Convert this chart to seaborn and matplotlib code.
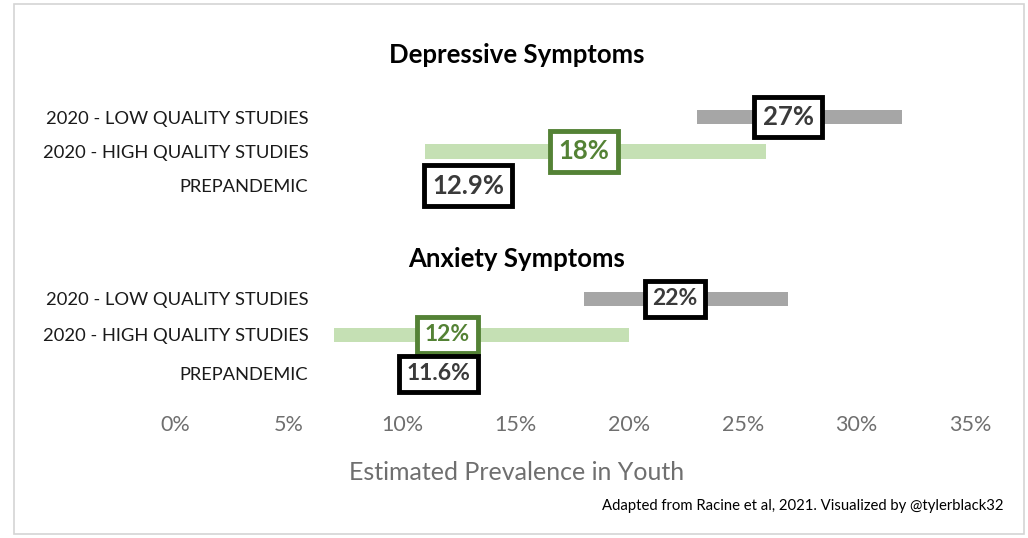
import matplotlib
matplotlib.use("Agg")
import matplotlib.pyplot as plt
import matplotlib.transforms as mtransforms
from matplotlib.patches import Rectangle
import seaborn as sns
import pandas as pd

# data (percent)
groups = ["Depressive Symptoms", "Depressive Symptoms", "Depressive Symptoms",
          "Anxiety Symptoms", "Anxiety Symptoms", "Anxiety Symptoms"]
categories = ["2020 - LOW QUALITY STUDIES", "2020 - HIGH QUALITY STUDIES", "PREPANDEMIC",
              "2020 - LOW QUALITY STUDIES", "2020 - HIGH QUALITY STUDIES", "PREPANDEMIC"]
ci_low = [23, 11, None, 18, 7, None]
ci_high = [32, 26, None, 27, 20, None]
estimate = [27, 18, 12.9, 22, 12, 11.6]
estimate_labels = ["27%", "18%", "12.9%", "22%", "12%", "11.6%"]
x_ticks = [0, 5, 10, 15, 20, 25, 30, 35]
x_tick_labels = ["0%", "5%", "10%", "15%", "20%", "25%", "30%", "35%"]

# layout: row positions (two groups with a gap for the second title)
row_pos = [0, 1, 2, 5.31, 6.36, 7.5]
title_pos = {"Depressive Symptoms": -1.8, "Anxiety Symptoms": 4.15}

df = pd.DataFrame({"group": groups, "category": categories, "low": ci_low,
                   "high": ci_high, "est": estimate, "label": estimate_labels,
                   "y": row_pos})

sns.set_theme(style="white")
plt.rcParams["font.family"] = ["Lato", "DejaVu Sans"]

W, H = 1028, 538
fig = plt.figure(figsize=(W / 100, H / 100), dpi=100)
fig.patch.set_facecolor("white")
fig.patches.append(Rectangle((14 / W, 4 / H), 1010 / W, 530 / H, transform=fig.transFigure,
                             fill=False, edgecolor="#d4d4d4", linewidth=1.2))

ax = fig.add_axes([175 / W, (H - 400) / H, 795 / W, 370 / H])
ax.set_xlim(0, 35)
ax.set_ylim(8.26, -2.54)
for s in ax.spines.values():
    s.set_visible(False)

bar_colors = {"2020 - LOW QUALITY STUDIES": "#a6a6a6",
              "2020 - HIGH QUALITY STUDIES": "#c5e0b4"}
box_edges = {"2020 - LOW QUALITY STUDIES": "black",
             "2020 - HIGH QUALITY STUDIES": "#548235",
             "PREPANDEMIC": "black"}
text_colors = {"2020 - LOW QUALITY STUDIES": "#3a3a3a",
               "2020 - HIGH QUALITY STUDIES": "#548235",
               "PREPANDEMIC": "#3a3a3a"}

for _, r in df.iterrows():
    if pd.notna(r["low"]):
        ax.barh(r["y"], r["high"] - r["low"], left=r["low"], height=0.43,
                color=bar_colors[r["category"]], linewidth=0)

for _, r in df.iterrows():
    big = r["group"] == "Depressive Symptoms"
    ax.text(r["est"], r["y"], r["label"], ha="center", va="center",
            fontsize=18.5 if big else 16.5, fontweight="bold", color=text_colors[r["category"]],
            bbox=dict(boxstyle="square,pad=0.33", facecolor="white",
                      edgecolor=box_edges[r["category"]], linewidth=3.5), zorder=5)

trans = mtransforms.blended_transform_factory(ax.transAxes, ax.transData)
for g, yy in title_pos.items():
    ax.text(0.43, yy, g, transform=trans, ha="center", va="center",
            fontsize=18.5, fontweight="bold", color="black")

ax.set_yticks(row_pos)
ax.set_yticklabels(categories, fontsize=13.2, color="#1a1a1a")
ax.tick_params(axis="y", length=0, pad=-96)
ax.set_xticks(x_ticks)
ax.set_xticklabels(x_tick_labels, fontsize=15.5, color="#6f6f6f")
ax.tick_params(axis="x", length=0, pad=11)
ax.set_xlabel("Estimated Prevalence in Youth", fontsize=18, color="#6f6f6f")
ax.xaxis.set_label_coords(0.43, -0.165)

fig.text(1003 / W, 1 - 506 / H, "Adapted from Racine et al, 2021. Visualized by @tylerblack32",
         ha="right", va="center", fontsize=10.7, color="black")

fig.savefig("out.png", dpi=100)
